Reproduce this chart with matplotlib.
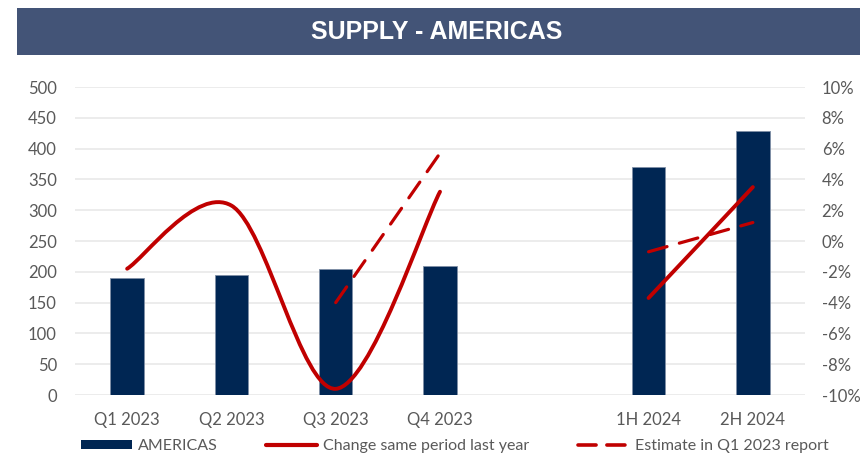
import matplotlib
matplotlib.use("Agg")
import matplotlib.pyplot as plt
from matplotlib.path import Path
from matplotlib.patches import PathPatch, Rectangle, Patch
from matplotlib.lines import Line2D
from matplotlib.ticker import FuncFormatter, MultipleLocator

plt.rcParams['axes.unicode_minus'] = False

# ---------------- data ----------------
categories = ["Q1 2023", "Q2 2023", "Q3 2023", "Q4 2023", "", "1H 2024", "2H 2024"]
supply = [190, 195, 204, 210, None, 370, 429]
change_pct = [-1.8, 2.3, -9.6, 3.2, None, -3.7, 3.5]
estimate_pct = [None, None, -4.0, 5.7, None, -0.7, 1.2]

title = "SUPPLY - AMERICAS"
bar_label = "AMERICAS"
change_label = "Change same period last year"
estimate_label = "Estimate in Q1 2023 report"

# ---------------- style ----------------
BAR_COLOR = "#002653"
RED = "#C00000"
GRID = "#E7E7E7"
TICK = "#595959"
TITLE_BG = "#435477"
FONT = "Lato"

fig = plt.figure(figsize=(8.6, 4.57), dpi=100)
fig.patch.set_facecolor("white")

# title bar
fig.patches.append(Rectangle((17 / 860, 1 - 55 / 457), 1 - 17 / 860, 47 / 457,
                             transform=fig.transFigure, facecolor=TITLE_BG,
                             edgecolor="none", zorder=0))
fig.text(0.5076, 1 - 32 / 457, title, ha="center", va="center", color="white",
         fontsize=18, fontweight="bold", family="Liberation Sans")

ax = fig.add_axes([75 / 860, 1 - 395 / 457, 730 / 860, 308 / 457])
x = list(range(len(categories)))

bx = [i for i, v in zip(x, supply) if v is not None]
bv = [v for v in supply if v is not None]
ax.bar(bx, bv, width=0.32, color=BAR_COLOR, edgecolor="#7F8FA6", linewidth=0.6,
       zorder=3)
ax.set_xlim(-0.5, len(categories) - 0.5)
ax.set_ylim(0, 500)
ax.yaxis.set_major_locator(MultipleLocator(50))
ax.grid(axis="y", color=GRID, linewidth=1.1, zorder=0)
ax.set_axisbelow(True)
ax.set_xticks(x)
ax.set_xticklabels(categories)
for s in ax.spines.values():
    s.set_visible(False)
ax.tick_params(axis="both", length=0, colors=TICK, labelsize=12)
ax.tick_params(axis="y", pad=13)
ax.tick_params(axis="x", pad=12)
for lab in ax.get_xticklabels() + ax.get_yticklabels():
    lab.set_family(FONT)

ax2 = ax.twinx()
ax2.set_ylim(-10, 10)
ax2.yaxis.set_major_locator(MultipleLocator(2))
ax2.yaxis.set_major_formatter(FuncFormatter(lambda v, p: f"{v:.0f}%"))
for s in ax2.spines.values():
    s.set_visible(False)
ax2.tick_params(axis="y", length=0, colors=TICK, labelsize=12, pad=12)
for lab in ax2.get_yticklabels():
    lab.set_family(FONT)


def segments(xs, ys):
    segs, cur = [], []
    for xi, yi in zip(xs, ys):
        if yi is None:
            if cur:
                segs.append(cur)
            cur = []
        else:
            cur.append((xi, yi))
    if cur:
        segs.append(cur)
    return segs


def smooth_path(pts):
    # Excel-style smoothed line: cubic Bezier with control points from neighbours
    n = len(pts)
    verts = [pts[0]]
    codes = [Path.MOVETO]
    for i in range(n - 1):
        p0 = pts[max(i - 1, 0)]
        p1 = pts[i]
        p2 = pts[i + 1]
        p3 = pts[min(i + 2, n - 1)]
        c1 = (p1[0] + (p2[0] - p0[0]) / 6, p1[1] + (p2[1] - p0[1]) / 6)
        c2 = (p2[0] - (p3[0] - p1[0]) / 6, p2[1] - (p3[1] - p1[1]) / 6)
        verts += [c1, c2, p2]
        codes += [Path.CURVE4] * 3
    return Path(verts, codes)


for seg in segments(x, change_pct):
    patch = PathPatch(smooth_path(seg), fill=False, edgecolor=RED, linewidth=2.8,
                      capstyle="round", joinstyle="round", zorder=4)
    ax2.add_patch(patch)

for seg in segments(x, estimate_pct):
    sx = [p[0] for p in seg]
    sy = [p[1] for p in seg]
    ax2.plot(sx, sy, color=RED, linewidth=2.3, dashes=(6, 4),
             dash_capstyle="round", zorder=4)

handles = [
    Patch(facecolor=BAR_COLOR, edgecolor="none"),
    Line2D([], [], color=RED, linewidth=3.0, solid_capstyle="round"),
    Line2D([], [], color=RED, linewidth=2.6, dashes=(5, 3), dash_capstyle="round"),
]
leg = fig.legend(handles, [bar_label, change_label, estimate_label],
                 loc="center left", bbox_to_anchor=(81 / 860, 1 - 446 / 457),
                 ncol=3, frameon=False, handlelength=3.2, handleheight=0.55,
                 handletextpad=0.35, columnspacing=3.05, borderpad=0,
                 borderaxespad=0, prop={"family": FONT, "size": 11.5})
for t in leg.get_texts():
    t.set_color(TICK)

fig.savefig("out.png", dpi=100, facecolor="white")
